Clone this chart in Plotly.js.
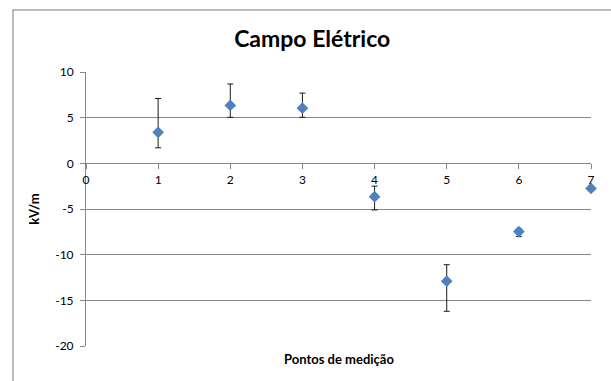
<!DOCTYPE html>
<html>
<head>
<meta charset="utf-8">
<script src="https://cdn.plot.ly/plotly-3.0.1.min.js"></script>
<style>html,body{margin:0;padding:0;background:#fff;}#chart{width:611px;height:381px;}</style>
</head>
<body>
<div id="chart"></div>
<script>
const points = [1, 2, 3, 4, 5, 6, 7];
const values = [3.4, 6.34, 6.04, -3.65, -12.9, -7.47, -2.75];
const errPlus = [3.7, 2.35, 1.65, 1.15, 1.8, 0.3, 0];
const errMinus = [1.7, 1.3, 1.0, 1.45, 3.3, 0.55, 0];
const xTicks = [0, 1, 2, 3, 4, 5, 6, 7];
const yTicks = [10, 5, 0, -5, -10, -15, -20];

const FONT = 'Lato, "Liberation Sans", sans-serif';

const trace = {
  x: points, y: values, type: 'scatter', mode: 'markers',
  marker: {symbol: 'diamond', size: 9, color: '#4F81BD'},
  error_y: {type: 'data', symmetric: false, array: errPlus, arrayminus: errMinus,
            color: '#1a1a1a', thickness: 1, width: 3},
  cliponaxis: false, showlegend: false, hoverinfo: 'none'
};

const layout = {
  width: 611, height: 381,
  margin: {l: 86, r: 20, t: 72, b: 35},
  paper_bgcolor: '#ffffff', plot_bgcolor: '#ffffff',
  font: {family: FONT, size: 12, color: '#000'},
  title: {text: '<b>Campo Elétrico</b>', font: {family: FONT, size: 23, color: '#000'},
          x: 0.511, xanchor: 'center', y: 0.897, yanchor: 'middle'},
  xaxis: {
    range: [0, 7], tickvals: xTicks, ticktext: xTicks.map(String),
    anchor: 'free', position: 2/3, side: 'bottom',
    showline: true, linecolor: '#868686', linewidth: 1,
    ticks: 'outside', ticklen: 5, tickcolor: '#868686',
    showgrid: false, zeroline: false,
    tickfont: {family: FONT, size: 12, color: '#000'},
    title: {text: ''}
  },
  yaxis: {
    range: [-20, 10], tickvals: yTicks, ticktext: yTicks.map(String),
    showline: true, linecolor: '#868686', linewidth: 1,
    ticks: 'outside', ticklen: 5, tickcolor: '#868686', ticklabelstandoff: 4,
    showgrid: true, gridcolor: '#868686', gridwidth: 1, zeroline: false,
    tickfont: {family: FONT, size: 12, color: '#000'},
    title: {text: '<b>kV/m</b>', font: {family: FONT, size: 13, color: '#000'}, standoff: 12}
  },
  annotations: [{
    text: '<b>Pontos de medição</b>', xref: 'paper', yref: 'paper',
    x: 0.5, y: -0.012, xanchor: 'center', yanchor: 'top', showarrow: false,
    font: {family: FONT, size: 13, color: '#000'}
  }],
  shapes: [{
    type: 'rect', xref: 'paper', yref: 'paper',
    x0: -0.1446, x1: 1.2, y0: -0.3, y1: 1.226,
    line: {color: '#A6A6A6', width: 1.5}, fillcolor: 'rgba(0,0,0,0)', layer: 'below'
  }]
};

Plotly.newPlot('chart', [trace], layout, {displayModeBar: false, staticPlot: true});
</script>
</body>
</html>
